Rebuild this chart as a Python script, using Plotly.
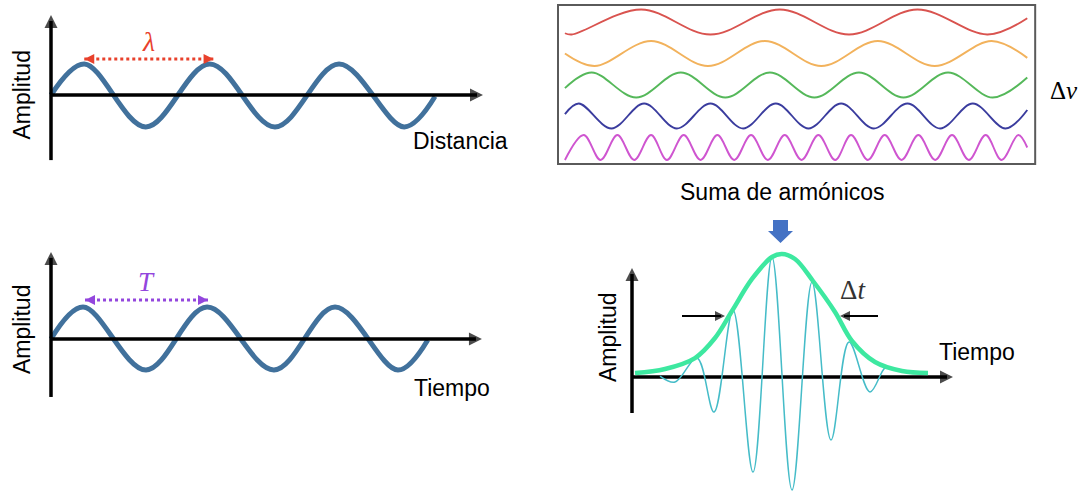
import plotly.graph_objects as go

W, H = 1081, 493

# ---------------- DATA ----------------
# Panel A: wave vs distance (x in wavelengths, y in amplitude units)
dist_x = [0.0, 0.26, 0.74, 1.24, 1.75, 2.25, 2.76, 3.0]
dist_y = [0.0, 1.0, -1.03, 1.0, -1.03, 1.0, -1.03, -0.05]
lambda_span = [0.26, 1.27]        # peak-to-peak marker

# Panel B: wave vs time (x in periods, y in amplitude units)
time_x = [0.0, 0.254, 0.754, 1.238, 1.77, 2.254, 2.754, 2.99]
time_y = [0.0, 1.03, -1.0, 1.03, -1.0, 1.03, -1.0, -0.03]
period_span = [0.27, 1.246]

# Panel C: harmonics (x: time a.u., y: normalised amplitude)
red_x = [7, 14, 84, 154, 224, 294, 363, 434, 474]
red_y = [-0.9, -1, 1, -1, 1, -1, 1, -1, 0.3]
orange_x = [7, 37, 94, 151.5, 209, 266, 323, 380.5, 438, 474]
orange_y = [0.0, -1, 1, -1, 1, -1, 1, -1, 1, -0.35]
green_x = [7, 34, 79, 124, 169, 214, 259, 304, 349, 394, 439, 474]
green_y = [-0.25, 1, -1, 1, -1, 1, -1, 1, -1, 1, -1, 0.6]
blue_x = [7, 21, 54, 87, 120, 154, 187, 220, 253, 286, 319, 353, 386, 419, 452, 474]
blue_y = [0.15, 1, -1, 1, -1, 1, -1, 1, -1, 1, -1, 1, -1, 1, -1, 0.48]
magenta_x = [7, 26, 43, 60, 77, 94, 110, 127, 144, 161, 178, 195, 212, 229, 246,
             263, 280, 296, 313, 330, 347, 364, 381, 398, 415, 432, 448, 465, 474]
magenta_y = [-1, 1, -1, 1, -1, 1, -1, 1, -1, 1, -1, 1, -1, 1, -1,
             1, -1, 1, -1, 1, -1, 1, -1, 1, -1, 1, -1, 1, 0.0]

# Panel D: wave packet (x: time a.u., y: amplitude)
env_t = [0.03, 0.33, 0.63, 0.83, 1.00, 1.20, 1.40, 1.50, 1.63, 1.81, 2.03, 2.20, 2.43, 2.70, 2.96]
env_a = [0.033, 0.067, 0.158, 0.325, 0.55, 0.817, 1.0, 1.025, 0.983, 0.8, 0.542, 0.3, 0.125, 0.05, 0.033]
pkt_t = [0.28, 0.43, 0.65, 0.82, 1.01, 1.21, 1.40, 1.60, 1.80, 1.99, 2.17, 2.38, 2.53, 2.58]
pkt_a = [0.008, -0.042, 0.158, -0.292, 0.558, -0.792, 1.0, -0.942, 0.792, -0.525, 0.292, -0.125, 0.075, 0.067]
dt_tips = [0.93, 2.08]

# ---------------- STYLE ----------------
WAVE_BLUE = "#41719c"
RED_LBL = "#e8412c"
PURPLE_LBL = "#9346dd"
HARM_COLORS = ["#d9534f", "#f2b25c", "#55b85a", "#3a3c9e", "#cf55d0"]
ENV_COL = "#3de8a0"
PKT_COL = "#45bcc8"
SANS = "Liberation Sans, Arial, sans-serif"
SERIF = "Liberation Serif, Times New Roman, serif"

fig = go.Figure()


def panel(idx, ox, oy, sx, sy, px_x, px_y):
    """Create hidden axes pair idx whose data origin sits at pixel (ox, oy)."""
    xname = "xaxis" if idx == 1 else f"xaxis{idx}"
    yname = "yaxis" if idx == 1 else f"yaxis{idx}"
    xr = [(px_x[0] - ox) / sx, (px_x[1] - ox) / sx]
    yr = [(oy - px_y[1]) / sy, (oy - px_y[0]) / sy]
    common = dict(visible=False, showgrid=False, zeroline=False, fixedrange=True)
    fig.update_layout({
        xname: dict(domain=[px_x[0] / W, px_x[1] / W], range=xr,
                    anchor=f"y{'' if idx == 1 else idx}", **common),
        yname: dict(domain=[1 - px_y[1] / H, 1 - px_y[0] / H], range=yr,
                    anchor=f"x{'' if idx == 1 else idx}", **common),
    })
    return (f"x{'' if idx == 1 else idx}", f"y{'' if idx == 1 else idx}")


def axis_arrow(ax, x, y, sym, width=3.5, size=13):
    fig.add_trace(go.Scatter(x=x, y=y, xaxis=ax[0], yaxis=ax[1], mode="lines+markers",
                             line=dict(color="black", width=width, backoff=6),
                             marker=dict(symbol=["circle", sym], size=[0, size], color="black",
                                         line=dict(width=0)),
                             hoverinfo="skip", showlegend=False, cliponaxis=False))


def text(ax, x, y, s, size, color="black", family=SANS, angle=0, xanchor="center"):
    fig.add_annotation(x=x, y=y, xref=ax[0], yref=ax[1], text=s, showarrow=False,
                       textangle=angle, xanchor=xanchor, yanchor="middle",
                       font=dict(size=size, color=color, family=family))


# ---------- Panel A ----------
A = panel(1, 51, 95, 128, 31, (0, 520), (0, 205))
fig.add_trace(go.Scatter(x=dist_x, y=dist_y, xaxis=A[0], yaxis=A[1], mode="lines",
                         line=dict(color=WAVE_BLUE, width=5, shape="spline"),
                         hoverinfo="skip", showlegend=False))
axis_arrow(A, [0, 3.375], [0, 0], "arrow-right")
axis_arrow(A, [0, 0], [-2.1, 2.58], "arrow-up")
fig.add_trace(go.Scatter(x=lambda_span, y=[1.16, 1.16], xaxis=A[0], yaxis=A[1],
                         mode="lines+markers", line=dict(color=RED_LBL, width=3, dash="dot"),
                         marker=dict(symbol=["arrow-left", "arrow-right"], size=10, color=RED_LBL),
                         hoverinfo="skip", showlegend=False, cliponaxis=False))
text(A, 0.76, 1.72, "<i>λ</i>", 28, RED_LBL, SERIF)
text(A, 3.2, -1.48, "Distancia", 23)
text(A, -0.23, 0.0, "Amplitud", 23, angle=-90)

# ---------- Panel B ----------
B = panel(2, 51, 339, 126, 31, (0, 520), (230, 493))
fig.add_trace(go.Scatter(x=time_x, y=time_y, xaxis=B[0], yaxis=B[1], mode="lines",
                         line=dict(color=WAVE_BLUE, width=5, shape="spline"),
                         hoverinfo="skip", showlegend=False))
axis_arrow(B, [0, 3.42], [0, 0], "arrow-right")
axis_arrow(B, [0, 0], [-1.87, 2.81], "arrow-up")
fig.add_trace(go.Scatter(x=period_span, y=[1.26, 1.26], xaxis=B[0], yaxis=B[1],
                         mode="lines+markers", line=dict(color=PURPLE_LBL, width=3, dash="dot"),
                         marker=dict(symbol=["arrow-left", "arrow-right"], size=10, color=PURPLE_LBL),
                         hoverinfo="skip", showlegend=False, cliponaxis=False))
text(B, 0.76, 1.85, "<i>T</i>", 27, PURPLE_LBL, SERIF)
text(B, 3.18, -1.58, "Tiempo", 23)
text(B, -0.23, 0.29, "Amplitud", 23, angle=-90)

# ---------- Panel C ----------
C = panel(3, 558, 164, 0.99, 12.5, (545, 1081), (0, 212))
fig.add_shape(type="rect", xref=C[0], yref=C[1], x0=0, x1=482, y0=0, y1=159 / 12.5,
              line=dict(color="#5a5a5a", width=2), fillcolor="rgba(0,0,0,0)")
harmonics = [(red_x, red_y), (orange_x, orange_y), (green_x, green_y),
             (blue_x, blue_y), (magenta_x, magenta_y)]
offsets = [11.36, 8.84, 6.32, 3.84, 1.32]   # vertical stacking (layout)
for (hx, hy), col, off in zip(harmonics, HARM_COLORS, offsets):
    fig.add_trace(go.Scatter(x=hx, y=[off + v for v in hy], xaxis=C[0], yaxis=C[1],
                             mode="lines", line=dict(color=col, width=1.9, shape="spline"),
                             hoverinfo="skip", showlegend=False))
text(C, 511, 5.92, "Δ<i>ν</i>", 25, "black", SERIF)
text(C, 227, -2.24, "Suma de armónicos", 23)

# ---------- Panel D ----------
D = panel(4, 632, 377, 100, 120, (590, 1081), (214, 493))
axis_arrow(D, [0, 3.21], [0, 0], "arrow-right")
axis_arrow(D, [0, 0], [-0.3, 0.908], "arrow-up")
fig.add_trace(go.Scatter(x=pkt_t, y=pkt_a, xaxis=D[0], yaxis=D[1], mode="lines",
                         line=dict(color=PKT_COL, width=1.5, shape="spline"),
                         hoverinfo="skip", showlegend=False))
fig.add_trace(go.Scatter(x=env_t, y=env_a, xaxis=D[0], yaxis=D[1], mode="lines",
                         line=dict(color=ENV_COL, width=4.5, shape="spline"),
                         hoverinfo="skip", showlegend=False))
# Δt arrows pointing at the envelope
for tip, tail in ((dt_tips[0], 0.50), (dt_tips[1], 2.46)):
    fig.add_trace(go.Scatter(x=[tail, tip], y=[0.508, 0.508], xaxis=D[0], yaxis=D[1],
                             mode="lines+markers",
                             line=dict(color="black", width=2, backoff=4),
                             marker=dict(symbol=["circle", "arrow-right" if tip > tail else "arrow-left"],
                                         size=[0, 10], color="black", line=dict(width=0)),
                             hoverinfo="skip", showlegend=False, cliponaxis=False))
text(D, 2.21, 0.725, "Δ<i>t</i>", 27, "#333333", SERIF)
text(D, -0.24, 0.325, "Amplitud", 23, angle=-90)
text(D, 3.45, 0.21, "Tiempo", 23)

# block arrow above the packet peak
cx, top, sb, tipy, sw, hw = 1.485, 1.308, 1.217, 1.117, 0.075, 0.125
fig.add_shape(type="path", xref=D[0], yref=D[1],
              path=(f"M{cx - sw},{top} L{cx + sw},{top} L{cx + sw},{sb} L{cx + hw},{sb} "
                    f"L{cx},{tipy} L{cx - hw},{sb} L{cx - sw},{sb} Z"),
              fillcolor="#4472c4", line=dict(width=0))

fig.update_layout(width=W, height=H, margin=dict(l=0, r=0, t=0, b=0),
                  paper_bgcolor="white", plot_bgcolor="rgba(0,0,0,0)", showlegend=False)

fig.write_html("out.html", config={"displayModeBar": False, "responsive": False},
               post_script="document.body.style.margin='0';document.body.style.overflow='hidden';")
